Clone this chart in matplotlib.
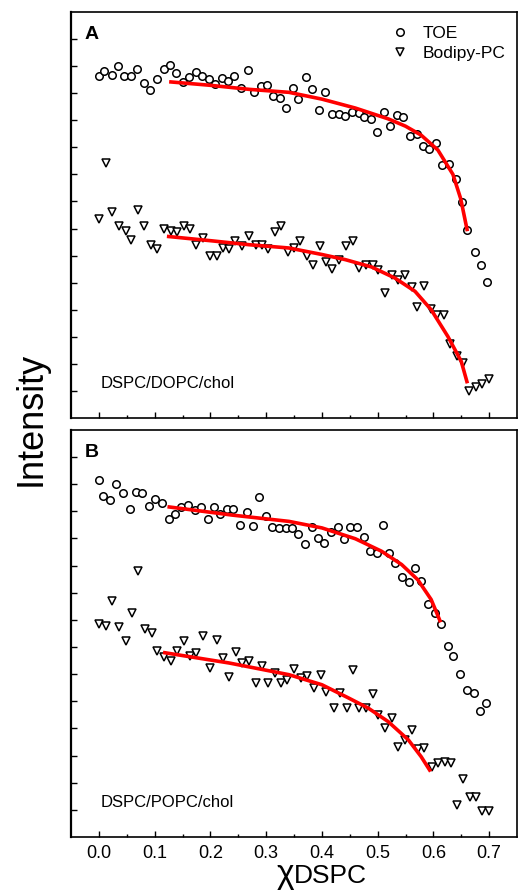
import matplotlib
matplotlib.use("Agg")
import matplotlib.pyplot as plt

plt.rcParams['font.family'] = ['Liberation Sans', 'DejaVu Sans']

# panel A: DSPC/DOPC/chol
toe_a_x = [0.000, 0.010, 0.023, 0.034, 0.045, 0.057, 0.069, 0.081, 0.092, 0.104,
           0.116, 0.127, 0.139, 0.151, 0.162, 0.174, 0.185, 0.197, 0.208, 0.220,
           0.232, 0.243, 0.255, 0.267, 0.278, 0.290, 0.302, 0.313, 0.325, 0.336,
           0.348, 0.358, 0.371, 0.383, 0.394, 0.406, 0.418, 0.430, 0.442, 0.454,
           0.466, 0.476, 0.488, 0.499, 0.512, 0.523, 0.535, 0.546, 0.558, 0.570,
           0.581, 0.593, 0.604, 0.615, 0.628, 0.641, 0.651, 0.661, 0.674, 0.685,
           0.697]
toe_a_y = [12.62, 12.81, 12.67, 13.02, 12.63, 12.64, 12.89, 12.36, 12.13, 12.52,
           12.89, 13.05, 12.74, 12.42, 12.58, 12.79, 12.64, 12.52, 12.34, 12.56,
           12.46, 12.63, 12.19, 12.87, 12.06, 12.26, 12.30, 11.88, 11.81, 11.45,
           12.20, 11.78, 12.61, 12.15, 11.37, 12.05, 11.23, 11.23, 11.16, 11.32,
           11.26, 11.13, 11.04, 10.55, 11.29, 10.77, 11.20, 11.13, 10.42, 10.48,
           10.05, 9.93, 10.15, 9.35, 9.40, 8.84, 7.99, 6.94, 6.13, 5.64,
           5.03]
bod_a_x = [0.000, 0.012, 0.024, 0.036, 0.048, 0.058, 0.071, 0.081, 0.093, 0.105,
           0.117, 0.129, 0.141, 0.152, 0.164, 0.175, 0.187, 0.199, 0.211, 0.222,
           0.233, 0.245, 0.257, 0.269, 0.281, 0.293, 0.304, 0.315, 0.327, 0.339,
           0.350, 0.361, 0.374, 0.384, 0.396, 0.408, 0.419, 0.431, 0.443, 0.455,
           0.467, 0.479, 0.491, 0.501, 0.513, 0.525, 0.537, 0.549, 0.561, 0.571,
           0.583, 0.595, 0.607, 0.619, 0.629, 0.642, 0.654, 0.664, 0.676, 0.688,
           0.700]
bod_a_y = [7.34, 9.43, 7.62, 7.11, 6.90, 6.57, 7.67, 7.09, 6.39, 6.23,
           6.99, 6.90, 6.87, 7.09, 6.97, 6.39, 6.66, 6.00, 6.00, 6.29,
           6.23, 6.53, 6.37, 6.72, 6.39, 6.39, 6.23, 6.88, 7.09, 6.13,
           6.29, 6.53, 6.00, 5.67, 6.35, 5.76, 5.51, 5.85, 6.37, 6.53,
           5.55, 5.67, 5.67, 5.48, 4.62, 5.30, 5.11, 5.30, 4.83, 4.09,
           4.87, 4.03, 3.82, 3.82, 2.74, 2.30, 2.03, 1.01, 1.15, 1.26,
           1.44]
fit_toe_a_x = [0.126, 0.200, 0.270, 0.341, 0.400, 0.460, 0.519, 0.550, 0.578, 0.608, 0.635, 0.649, 0.661]
fit_toe_a_y = [12.42, 12.29, 12.14, 12.03, 11.78, 11.45, 11.05, 10.78, 10.45, 9.90, 9.00, 8.10, 6.90]
fit_bod_a_x = [0.122, 0.200, 0.270, 0.341, 0.400, 0.442, 0.489, 0.531, 0.567, 0.596, 0.626, 0.650, 0.661]
fit_bod_a_y = [6.71, 6.55, 6.40, 6.28, 6.04, 5.85, 5.58, 5.17, 4.68, 4.00, 3.01, 2.09, 1.28]

# panel B: DSPC/POPC/chol
toe_b_x = [0.000, 0.008, 0.020, 0.031, 0.043, 0.055, 0.066, 0.078, 0.090, 0.101,
           0.113, 0.125, 0.136, 0.148, 0.160, 0.172, 0.183, 0.195, 0.206, 0.218,
           0.230, 0.241, 0.253, 0.265, 0.276, 0.288, 0.300, 0.311, 0.323, 0.335,
           0.346, 0.358, 0.370, 0.382, 0.393, 0.404, 0.416, 0.428, 0.440, 0.450,
           0.463, 0.475, 0.486, 0.498, 0.510, 0.521, 0.532, 0.544, 0.556, 0.567,
           0.578, 0.591, 0.602, 0.613, 0.626, 0.636, 0.648, 0.660, 0.672, 0.683,
           0.695]
toe_b_y = [13.15, 12.58, 12.40, 12.99, 12.66, 12.07, 12.71, 12.66, 12.21, 12.47,
           12.31, 11.72, 11.92, 12.17, 12.24, 12.04, 12.17, 11.72, 12.17, 11.92,
           12.09, 12.09, 11.51, 11.97, 11.45, 12.54, 11.82, 11.43, 11.39, 11.39,
           11.39, 11.18, 10.80, 11.43, 11.02, 10.84, 11.23, 11.43, 10.99, 11.43,
           11.43, 11.06, 10.55, 10.47, 11.51, 10.47, 10.10, 9.58, 9.40, 9.92,
           9.45, 8.60, 8.25, 7.86, 7.02, 6.68, 6.00, 5.42, 5.32, 4.65,
           4.93]
bod_b_x = [0.000, 0.012, 0.024, 0.036, 0.048, 0.059, 0.071, 0.083, 0.095, 0.105,
           0.117, 0.129, 0.141, 0.153, 0.163, 0.175, 0.187, 0.199, 0.211, 0.222,
           0.234, 0.246, 0.257, 0.269, 0.281, 0.293, 0.304, 0.316, 0.326, 0.338,
           0.350, 0.362, 0.374, 0.386, 0.398, 0.408, 0.421, 0.433, 0.445, 0.455,
           0.467, 0.479, 0.491, 0.501, 0.513, 0.525, 0.537, 0.549, 0.561, 0.572,
           0.584, 0.597, 0.609, 0.621, 0.632, 0.643, 0.654, 0.665, 0.676, 0.688,
           0.700]
bod_b_y = [7.85, 7.79, 8.68, 7.74, 7.23, 8.25, 9.79, 7.66, 7.52, 6.84,
           6.65, 6.47, 6.84, 7.21, 6.68, 6.78, 7.39, 6.23, 7.27, 6.59,
           5.89, 6.80, 6.41, 6.47, 5.69, 6.31, 5.69, 6.06, 5.69, 5.77,
           6.19, 5.86, 5.92, 5.49, 5.98, 5.36, 4.75, 5.32, 4.75, 6.16,
           4.75, 4.75, 5.27, 4.50, 4.01, 4.40, 3.33, 3.58, 3.95, 3.24,
           3.27, 2.59, 2.74, 2.78, 2.72, 1.18, 2.13, 1.49, 1.46, 0.97,
           0.97]
fit_toe_b_x = [0.123, 0.240, 0.341, 0.400, 0.460, 0.507, 0.543, 0.572, 0.596, 0.613]
fit_toe_b_y = [12.17, 11.86, 11.63, 11.39, 10.99, 10.53, 10.04, 9.48, 8.75, 7.91]
fit_bod_b_x = [0.115, 0.234, 0.341, 0.400, 0.448, 0.483, 0.519, 0.555, 0.578, 0.595]
fit_bod_b_y = [6.80, 6.41, 5.98, 5.61, 5.12, 4.75, 4.25, 3.58, 2.96, 2.41]

xticks = [0.0, 0.1, 0.2, 0.3, 0.4, 0.5, 0.6, 0.7]
xminor = [0.05, 0.15, 0.25, 0.35, 0.45, 0.55, 0.65]

fig = plt.figure(figsize=(5.18, 8.92), dpi=100)
axA = fig.add_axes([0.1371, 0.5314, 0.8610, 0.4552])
axB = fig.add_axes([0.1371, 0.0617, 0.8610, 0.4563])

panels = [
    (axA, toe_a_x, toe_a_y, bod_a_x, bod_a_y, fit_toe_a_x, fit_toe_a_y, fit_bod_a_x, fit_bod_a_y, 'A', 'DSPC/DOPC/chol'),
    (axB, toe_b_x, toe_b_y, bod_b_x, bod_b_y, fit_toe_b_x, fit_toe_b_y, fit_bod_b_x, fit_bod_b_y, 'B', 'DSPC/POPC/chol'),
]

for ax, tx, ty, bx, by, ftx, fty, fbx, fby, letter, mix in panels:
    ax.plot(tx, ty, 'o', ms=5.4, mfc='white', mec='black', mew=1.1, ls='none', label='TOE', zorder=2)
    ax.plot(bx, by, 'v', ms=6.2, mfc='white', mec='black', mew=1.1, ls='none', label='Bodipy-PC', zorder=2)
    ax.plot(ftx, fty, color='#ff0000', lw=2.6, solid_capstyle='butt', zorder=3)
    ax.plot(fbx, fby, color='#ff0000', lw=2.6, solid_capstyle='butt', zorder=3)
    ax.set_xlim(-0.05, 0.75)
    ax.set_ylim(0, 15)
    ax.set_xticks(xticks)
    ax.set_xticks(xminor, minor=True)
    ax.set_yticks(range(1, 15))
    ax.set_yticklabels([])
    ax.tick_params(axis='both', which='major', direction='in', length=4, width=1.0, color='black')
    ax.tick_params(axis='x', which='minor', direction='in', length=2.5, width=1.0)
    ax.tick_params(axis='x', labelsize=13, pad=6)
    for s in ax.spines.values():
        s.set_linewidth(1.2)
    ax.spines['left'].set_linewidth(1.6)
    ax.text(0.03, 0.965, letter, transform=ax.transAxes, fontsize=14, fontweight='bold', va='top', ha='left')
    ax.text(0.003, 1.1, mix, fontsize=12, va='baseline', ha='left')

axA.set_xticklabels([])
axA.legend(loc='upper left', bbox_to_anchor=(0.715, 0.965), frameon=False, fontsize=12.5,
           handlelength=1.2, handletextpad=0.7, labelspacing=0.25, borderpad=0, borderaxespad=0)

fig.text(0.06, 0.53, 'Intensity', rotation=90, fontsize=26, ha='center', va='center')
fig.text(0.567, 0.002, '\u03c7', fontsize=24, ha='right', va='bottom')
fig.text(0.567, 0.005, 'DSPC', fontsize=19, ha='left', va='bottom')

plt.savefig('out.png', dpi=100)
